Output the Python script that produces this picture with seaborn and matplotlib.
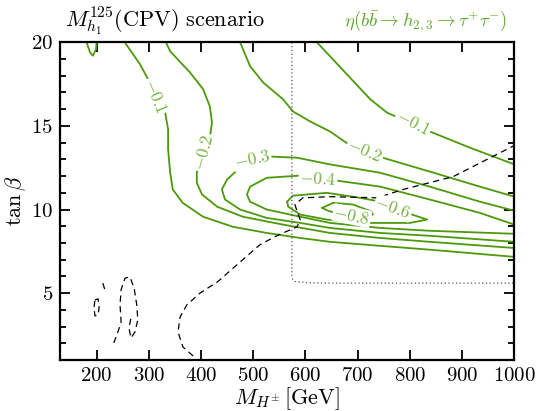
import numpy as np
import matplotlib
matplotlib.use("Agg")
import matplotlib.pyplot as plt
import seaborn as sns
from matplotlib.ticker import MultipleLocator

# contour lines of eta (M_H+- in GeV, tan beta)
c01_upper_x = [622, 647, 685, 724, 756, 806, 838, 915, 1000]
c01_upper_y = [20.0, 19.17, 17.9, 16.6, 15.8, 15.1, 14.67, 13.7, 12.7]

c01_lower_x = [254, 283, 302, 312, 331, 337, 337, 341, 346, 365, 404, 461, 526, 590, 647, 743, 838, 1000]
c01_lower_y = [20.0, 18.7, 17.6, 16.77, 15.87, 14.8, 13.6, 12.2, 11.2, 10.4, 9.57, 8.97, 8.6, 8.3, 8.07, 7.83, 7.6, 7.17]

c01_corner_x = [181, 187.5, 193, 199, 200]
c01_corner_y = [20.0, 19.4, 19.2, 19.58, 20.0]

c02_upper_x = [475, 494, 519, 557, 576, 609, 647, 678, 718, 748, 838, 934, 1000]
c02_upper_y = [20.0, 18.57, 17.6, 16.6, 15.87, 15.27, 14.67, 14.0, 13.47, 13.1, 12.27, 11.37, 10.77]

c02_lower_x = [333, 341, 379, 404, 417, 421, 417, 408, 398, 392, 392, 402, 431, 480, 557, 647, 743, 838, 1000]
c02_lower_y = [20.0, 19.46, 18.2, 17.2, 16.17, 15.2, 14.3, 13.6, 12.8, 12.2, 11.6, 10.9, 10.17, 9.57, 9.1, 8.6, 8.3, 8.07, 7.7]

c03_x = [1000, 934, 838, 743, 647, 584, 532, 503, 471, 450, 440, 446, 475, 526, 590, 647, 743, 838, 1000]
c03_y = [9.93, 10.47, 11.37, 12.2, 12.7, 13.1, 13.17, 13.0, 12.4, 11.8, 11.2, 10.6, 10.0, 9.5, 9.2, 8.9, 8.6, 8.43, 8.07]

c04_x = [1000, 934, 838, 743, 660, 628, 590, 526, 494, 488, 494, 526, 590, 647, 743, 838, 1000]
c04_y = [9.1, 9.8, 10.6, 11.37, 11.73, 11.9, 12.03, 11.9, 11.37, 10.9, 10.47, 10.0, 9.57, 9.2, 8.9, 8.73, 8.55]

c06_x = [565, 576, 641, 704.5, 756, 794.5, 833, 800, 704.5, 641, 590, 567, 565]
c06_y = [10.47, 10.83, 11.0, 10.7, 10.4, 9.8, 9.4, 9.2, 9.2, 9.4, 9.7, 10.17, 10.47]

c08_x = [632, 653, 691, 727.5, 729, 714, 676, 643, 632]
c08_y = [10.1, 10.4, 10.3, 9.87, 9.7, 9.63, 9.63, 9.93, 10.1]

# dashed exclusion boundary
dash_main_x = [385, 365.5, 356, 360, 373, 398, 432.6, 469, 513, 545, 584, 590, 584, 580, 595, 647, 737, 787, 883, 1000]
dash_main_y = [1.24, 1.78, 2.68, 3.58, 4.3, 5.0, 5.7, 6.7, 7.9, 8.43, 8.97, 9.4, 9.87, 10.3, 10.7, 10.77, 10.7, 11.2, 11.97, 13.83]

dash_a_x = [197, 203, 205, 203, 197, 195, 197]
dash_a_y = [4.6, 4.66, 4.18, 3.7, 3.64, 4.12, 4.6]

dash_b_x = [233, 241, 247, 245, 247, 254.5, 264, 272, 277, 279, 273.6, 266, 262, 266]
dash_b_y = [2.02, 2.68, 3.28, 4.3, 5.2, 5.9, 5.97, 5.3, 4.3, 3.4, 2.68, 2.32, 2.92, 3.52]

dash_c_x = [212, 218]
dash_c_y = [5.6, 5.0]

# dotted boundary
dot_x = [574, 574, 576, 580, 605, 640, 1000]
dot_y = [20.0, 6.0, 5.8, 5.7, 5.62, 5.6, 5.6]

# contour label text
lab_text = [r"$-0.1$", r"$-0.1$", r"$-0.2$", r"$-0.2$", r"$-0.3$", r"$-0.4$", r"$-0.6$", r"$-0.8$"]
lab_x = [312, 806, 406, 714, 498, 624, 768, 689]
lab_y = [16.77, 15.15, 13.4, 13.5, 13.0, 11.85, 10.1, 9.63]
lab_rot = [-68, -27, 75, -23, 12, -3, -20, -12]

sns.set_style("ticks")
plt.rcParams["font.family"] = "serif"
plt.rcParams["font.serif"] = ["cmr10", "DejaVu Serif"]
plt.rcParams["mathtext.fontset"] = "cm"
plt.rcParams["axes.formatter.use_mathtext"] = True
plt.rcParams["axes.edgecolor"] = "black"
plt.rcParams["xtick.color"] = "black"
plt.rcParams["ytick.color"] = "black"
plt.rcParams["text.color"] = "black"
plt.rcParams["axes.labelcolor"] = "black"

line_green = "#4c9a0a"
label_green = "#74b23e"

fig = plt.figure(figsize=(5.38, 4.11), dpi=100)
ax = fig.add_axes([0.1115, 0.124, 0.8445, 0.773])

green_lines = [
    (c01_upper_x, c01_upper_y), (c01_lower_x, c01_lower_y), (c01_corner_x, c01_corner_y),
    (c02_upper_x, c02_upper_y), (c02_lower_x, c02_lower_y),
    (c03_x, c03_y), (c04_x, c04_y), (c06_x, c06_y), (c08_x, c08_y),
]
for xs, ys in green_lines:
    sns.lineplot(x=xs, y=ys, sort=False, estimator=None, color=line_green, lw=1.3, ax=ax)

for xs, ys in [(dash_main_x, dash_main_y), (dash_a_x, dash_a_y), (dash_b_x, dash_b_y), (dash_c_x, dash_c_y)]:
    sns.lineplot(x=xs, y=ys, sort=False, estimator=None, color="black", lw=0.9,
                 linestyle=(0, (5, 3.5)), ax=ax)

sns.lineplot(x=dot_x, y=dot_y, sort=False, estimator=None, color="#555555", lw=0.9,
             linestyle=(0, (1, 2)), ax=ax)

for t, x, y, r in zip(lab_text, lab_x, lab_y, lab_rot):
    ax.text(x, y, t, rotation=r, ha="center", va="center", fontsize=12.5, color=label_green,
            rotation_mode="anchor", zorder=5,
            bbox=dict(fc="white", ec="none", pad=0.6))

ax.set_xlim(130, 1000)
ax.set_ylim(1, 20)
ax.xaxis.set_major_locator(MultipleLocator(100))
ax.yaxis.set_major_locator(MultipleLocator(5))
ax.yaxis.set_minor_locator(MultipleLocator(1))
ax.tick_params(which="both", direction="in", top=True, right=True, labelsize=15, width=1.3,
               color="black", labelcolor="black")
ax.tick_params(which="major", length=7, pad=5)
ax.tick_params(which="minor", length=4)
ax.tick_params(axis="x", which="minor", bottom=False, top=False)
for s in ax.spines.values():
    s.set_linewidth(1.6)
    s.set_color("black")

ax.set_xlabel(r"$M_{H^{\pm}}\,[\mathrm{GeV}]$", fontsize=16, labelpad=0)
ax.set_ylabel(r"$\tan\beta$", fontsize=16, labelpad=2)

ax.text(0.011, 1.048, r"$M_{h_1}^{125}\mathrm{(CPV)\ scenario}$", transform=ax.transAxes,
        fontsize=16, ha="left", va="baseline")
ax.text(0.984, 1.052, r"$\eta(b\bar{b} \to h_{2,3} \to \tau^{+}\tau^{-})$", transform=ax.transAxes,
        fontsize=13.5, ha="right", va="baseline", color="#5aa822")

fig.savefig("out.png", dpi=100)
